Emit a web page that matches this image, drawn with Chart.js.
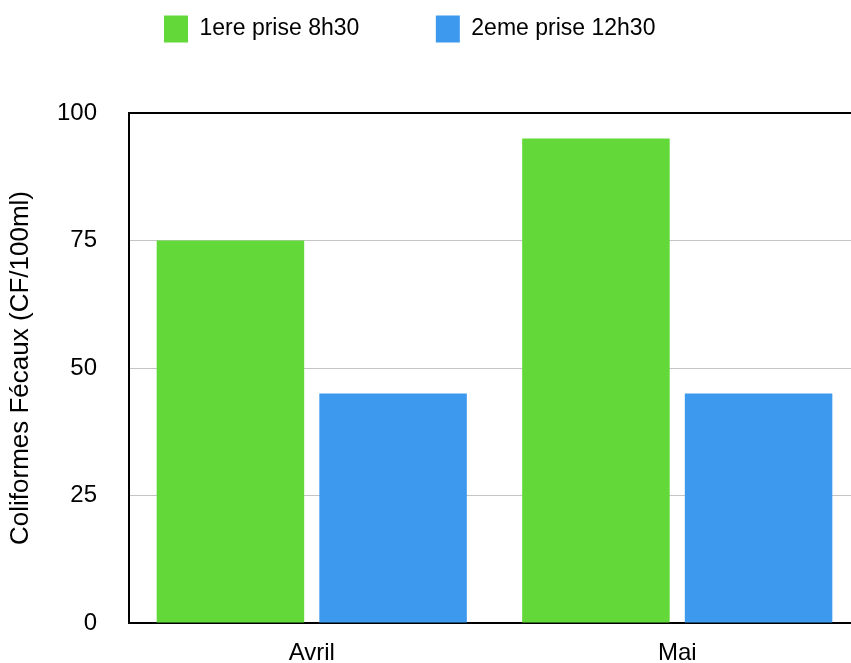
<!DOCTYPE html>
<html>
<head>
<meta charset="utf-8">
<script src="https://cdn.jsdelivr.net/npm/chart.js@4"></script>
<style>
html,body{margin:0;padding:0;overflow:hidden;background:#fff;}
#wrap{position:absolute;left:0;top:0;width:860px;height:663px;}
</style>
</head>
<body>
<div id="wrap"><canvas id="chart" width="860" height="663"></canvas></div>
<script>
// data
let mois = ["Avril","Mai"];
let prise1 = [75,95];
let prise2 = [45,45];
let seriesNames = ["1ere prise 8h30","2eme prise 12h30"];
let yTicks = [0,25,50,75,100];

Chart.defaults.font.family = "'Liberation Sans', Arial, Helvetica, sans-serif";
Chart.defaults.font.size = 24;
Chart.defaults.color = "#000";

// legend sits on its own band above the plot
let legendBand = {
id:"legendBand",
beforeInit(chart){
let fit = chart.legend.fit;
chart.legend.fit = function(){
fit.bind(chart.legend)();
this.height = 113;
};
},
afterLayout(chart){
let lg = chart.legend;
let w = lg.right - lg.left;
lg.left = 87.5; lg.right = 87.5 + w;
lg.top = -61; lg.bottom = lg.top + 113;
}
};

let ctx = document.getElementById("chart");

new Chart(ctx,{
type:"bar",
data:{
labels:mois,
datasets:[
{label:seriesNames[0],data:prise1,backgroundColor:"#63d939"},
{label:seriesNames[1],data:prise2,backgroundColor:"#3d99ed"}
]
},
options:{
responsive:false,
animation:false,
layout:{padding:0},
datasets:{bar:{categoryPercentage:0.89,barPercentage:0.907}},
plugins:{
legend:{
position:"top",
align:"start",
labels:{boxWidth:24,boxHeight:27,padding:76.5,color:"#000",font:{size:23}}
},
tooltip:{enabled:false}
},
scales:{
x:{
grid:{display:false},
border:{display:true,color:"#000",width:2},
ticks:{padding:8,color:"#000",font:{size:24}},
afterFit(s){s.height = 40; s.paddingLeft = 0; s.paddingRight = 0;}
},
y:{
min:0,max:100,
afterBuildTicks(s){s.ticks = yTicks.map(v=>({value:v}));},
grid:{
drawTicks:false,
color:c=>c.tick && c.tick.value===100 ? "#000" : "#c4c4c4",
lineWidth:c=>c.tick && c.tick.value===100 ? 2 : 1
},
border:{display:true,color:"#000",width:2},
ticks:{padding:32,color:"#000",font:{size:24}},
title:{display:true,text:"Coliformes Fécaux (CF/100ml)",color:"#000",font:{size:26},padding:{top:5,bottom:0}},
afterFit(s){s.width = 129; s.paddingTop = 0; s.paddingBottom = 0;}
}
}
},
plugins:[legendBand]
});
</script>
</body>
</html>
